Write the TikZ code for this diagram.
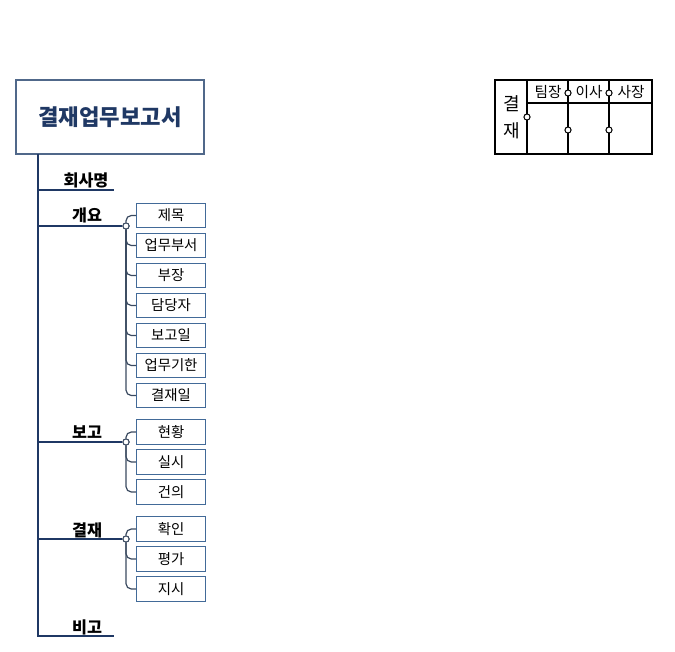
\documentclass[tikz,border=0pt]{standalone}
\usepackage{fontspec}
\setmainfont{Noto Sans CJK KR}
\usetikzlibrary{positioning,calc}
\definecolor{navy}{RGB}{31,56,100}
\definecolor{boxblue}{RGB}{66,106,152}
\definecolor{titleline}{RGB}{80,104,138}
\definecolor{subline}{RGB}{58,74,96}
\tikzset{font=\small}

\begin{document}
\begin{tikzpicture}[x=0.75pt,y=-0.75pt,
	trunk/.style={draw=navy, line width=1.9pt},
	sub/.style={draw=subline, line width=0.9pt, rounded corners=4pt},
	item/.style={draw=boxblue, line width=0.8pt, fill=white, minimum width=51.5pt, minimum height=18.5pt, inner sep=0pt, font=\fontsize{10.8}{12}\selectfont},
	head/.style={font=\fontsize{12.2}{14}\selectfont\bfseries, inner sep=1pt},
	dot/.style={circle, draw=subline, line width=0.75pt, fill=white, inner sep=0pt, minimum size=4.6pt},
	tdot/.style={circle, draw=black, line width=0.75pt, fill=white, inner sep=0pt, minimum size=4.6pt}]
	\useasboundingbox (0,0) rectangle (675,651);

	% title
	\node[draw=titleline, line width=0.9pt, minimum width=141pt, minimum height=55.5pt, text=navy,
		font=\fontsize{16.7}{19}\selectfont\bfseries] (title) at (110,117) {결재업무보고서};

	% trunk
	\coordinate (t0) at (38,154);
	\coordinate (t5) at (38,636);
	\coordinate (e1) at (114,190);
	\coordinate (e5) at (114,636);
	\node[dot] (c1) at (126,226) {};
	\node[dot] (c2) at (126,442) {};
	\node[dot] (c3) at (126,539) {};

	\draw[trunk] (t0) -- (t5) -- (e5);
	\draw[trunk] (t0 |- e1) -- (e1);
	\draw[trunk] (t0 |- c1) -- (c1);
	\draw[trunk] (t0 |- c2) -- (c2);
	\draw[trunk] (t0 |- c3) -- (c3);

	% labels
	\node[head] (h1) at (86,180) {회사명};
	\node[head] (h2) at (87,215) {개요};
	\node[head] (h3) at (87,432) {보고};
	\node[head] (h4) at (87,530) {결재};
	\node[head] (h5) at (87,627) {비고};

	% items
	\foreach \t [count=\i] in {제목,업무부서,부장,담당자,보고일,업무기한,결재일}
		\node[item] (a\i) at (171,185.5+30*\i) {\t};
	\foreach \t [count=\i] in {현황,실시,건의}
		\node[item] (b\i) at (171,402+30*\i) {\t};
	\foreach \t [count=\i] in {확인,평가,지시}
		\node[item] (d\i) at (171,499+30*\i) {\t};

	\foreach \i in {1,...,7}
		\draw[sub] (c1) |- (a\i.west);
	\foreach \i in {1,2,3}
		\draw[sub] (c2) |- (b\i.west);
	\foreach \i in {1,2,3}
		\draw[sub] (c3) |- (d\i.west);
	\node[dot] at (c1) {};
	\node[dot] at (c2) {};
	\node[dot] at (c3) {};

	% approval table
	\begin{scope}[line width=1.1pt]
		\draw (495,80) rectangle (652,154);
		\draw (527,80) -- (527,154);
		\draw (568,80) -- (568,154);
		\draw (609,80) -- (609,154);
		\draw (527,103) -- (652,103);
	\end{scope}
	\node[font=\fontsize{13.5}{15}\selectfont, inner sep=0pt] (k1) at (512,104) {결};
	\node[font=\fontsize{13.5}{15}\selectfont, inner sep=0pt] (k2) at (512,131) {재};
	\node[font=\fontsize{11}{12}\selectfont, inner sep=0pt] (p1) at (548,92) {팀장};
	\node[font=\fontsize{11}{12}\selectfont, inner sep=0pt] (p2) at (589,92) {이사};
	\node[font=\fontsize{11}{12}\selectfont, inner sep=0pt] (p3) at (631,92) {사장};
	\node[tdot] (s0) at (527,117) {};
	\node[tdot] (s1) at (568,93) {};
	\node[tdot] (s2) at (609,93) {};
	\node[tdot] (s3) at (568,130) {};
	\node[tdot] (s4) at (609,130) {};
\end{tikzpicture}
\end{document}
